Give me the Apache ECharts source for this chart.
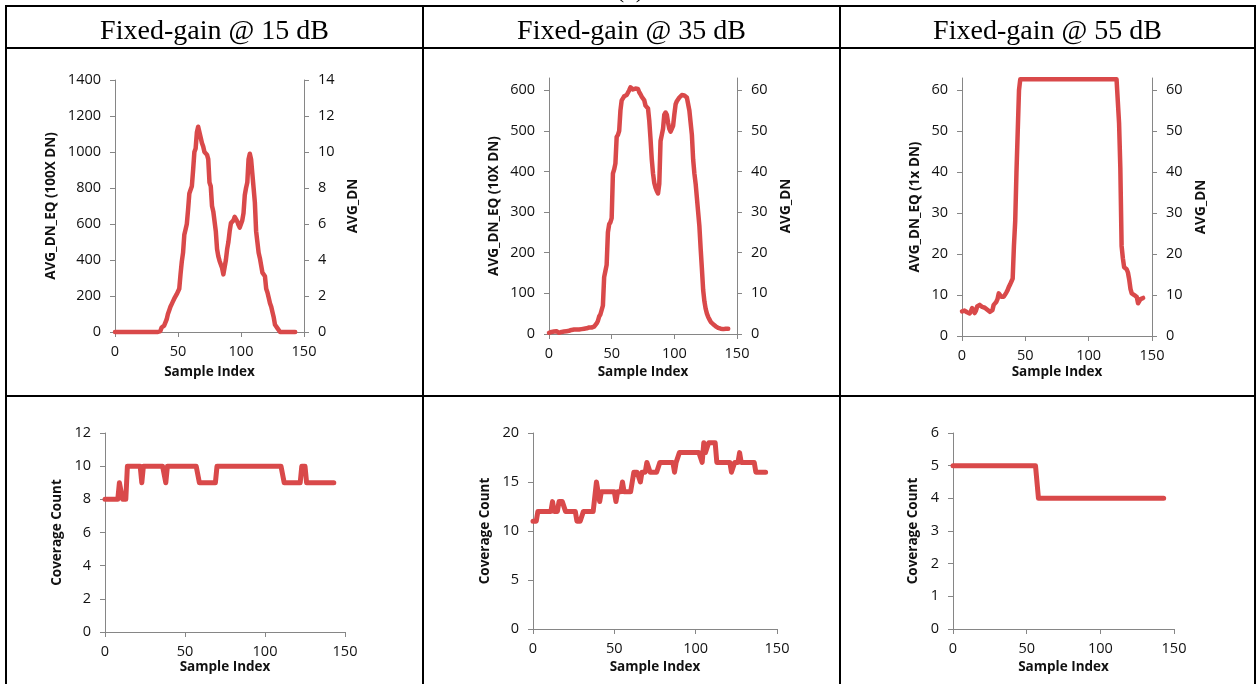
<!DOCTYPE html>
<html><head><meta charset="utf-8">
<script src="https://cdn.jsdelivr.net/npm/echarts@6/dist/echarts.min.js"></script>
<style>html,body{margin:0;padding:0;background:#fff}#c{width:1258px;height:684px}</style>
</head><body><div id="c"></div>
<script>
// ---------------- data ----------------
const headTitles = ['Fixed-gain @ 15 dB', 'Fixed-gain @ 35 dB', 'Fixed-gain @ 55 dB'];
const xTicks = [0, 50, 100, 150];
const yTicks15 = [0, 200, 400, 600, 800, 1000, 1200, 1400];
const rTicks15 = [0, 2, 4, 6, 8, 10, 12, 14];
const yTicks35 = [0, 100, 200, 300, 400, 500, 600];
const rTicks35 = [0, 10, 20, 30, 40, 50, 60];
const yTicks55 = [0, 10, 20, 30, 40, 50, 60];
const rTicks55 = [0, 10, 20, 30, 40, 50, 60];
const cTicks15 = [0, 2, 4, 6, 8, 10, 12];
const cTicks35 = [0, 5, 10, 15, 20];
const cTicks55 = [0, 1, 2, 3, 4, 5, 6];

// AVG_DN_EQ per sample index (0..143)
const gain15 = [
  0,0,0,0,0,0,0,0,0,0,
  0,0,0,0,0,0,0,0,0,0,
  0,0,0,0,0,0,0,0,0,0,
  0,0,0,0,0,0,5,25,30,35,
  45,70,100,120,140,155,170,185,195,210,
  225,240,320,390,440,540,570,600,680,770,
  790,810,900,1000,1020,1110,1140,1130,1080,1050,
  1030,1000,990,985,960,830,810,700,670,660,
  560,460,420,395,375,355,320,320,400,460,
  500,560,605,615,620,640,630,615,595,580,
  585,620,660,760,800,830,960,990,960,880,
  800,720,560,500,440,410,370,330,320,310,
  240,220,190,160,140,110,80,40,30,20,
  10,0,0,0,0,0,0,0,0,0,
  0,0,0,0
];
const gain35 = [
  3,4,5,5,6,6,7,5,3,4,
  5,5,6,7,7,7,8,9,10,10,
  11,10,11,11,11,12,12,12,13,14,
  14,15,16,16,16,17,18,20,26,32,
  43,48,52,70,140,155,170,250,270,275,
  285,395,405,420,485,490,500,550,575,580,
  585,586,588,592,600,607,605,602,603,604,
  604,603,595,590,584,580,575,562,559,555,
  525,480,430,395,372,360,352,346,370,475,
  490,505,540,545,540,520,505,498,505,512,
  540,565,573,577,582,585,588,589,587,585,
  582,578,550,520,490,430,395,370,335,300,
  265,210,160,108,80,62,50,42,36,30,
  27,24,21,19,17,15,14,13,13,12,
  12,13,13,13
];
const gain55 = [
  6.0,5.8,6.2,6.0,5.8,5.4,5.5,6.0,6.8,6.5,
  5.6,6.2,7.2,7.0,7.6,7.3,7.1,7.2,6.9,6.7,
  6.4,6.0,5.9,5.7,6.3,7.6,8.0,8.3,9.0,10.4,
  10.0,9.6,9.2,9.6,9.8,10.6,11.2,12.0,12.6,13.3,
  14,22,28,40,50,60,62.7,62.7,62.7,62.7,
  62.7,62.7,62.7,62.7,62.7,62.7,62.7,62.7,62.7,62.7,
  62.7,62.7,62.7,62.7,62.7,62.7,62.7,62.7,62.7,62.7,
  62.7,62.7,62.7,62.7,62.7,62.7,62.7,62.7,62.7,62.7,
  62.7,62.7,62.7,62.7,62.7,62.7,62.7,62.7,62.7,62.7,
  62.7,62.7,62.7,62.7,62.7,62.7,62.7,62.7,62.7,62.7,
  62.7,62.7,62.7,62.7,62.7,62.7,62.7,62.7,62.7,62.7,
  62.7,62.7,62.7,62.7,62.7,62.7,62.7,62.7,62.7,62.7,
  62.7,62.7,62.7,62.7,52,41,22,19,16.8,16.5,
  16.3,15.5,13.8,11.5,10.4,10.2,10.0,9.8,9.5,8.0,
  8.5,9.0,9.2,9.3
];
// Coverage Count per sample index (0..143)
const cov15 = [
  8,8,8,8,8,8,8,8,8,9,
  9,8,8,8,10,10,10,10,10,10,
  10,10,10,9,10,10,10,10,10,10,
  10,10,10,10,10,10,10,10,9,10,
  10,10,10,10,10,10,10,10,10,10,
  10,10,10,10,10,10,10,10,10,9,
  9,9,9,9,9,9,9,9,9,9,
  10,10,10,10,10,10,10,10,10,10,
  10,10,10,10,10,10,10,10,10,10,
  10,10,10,10,10,10,10,10,10,10,
  10,10,10,10,10,10,10,10,10,10,
  10,10,9,9,9,9,9,9,9,9,
  9,9,9,10,10,10,9,9,9,9,
  9,9,9,9,9,9,9,9,9,9,
  9,9,9,9
];
const cov35 = [
  11,11,11,12,12,12,12,12,12,12,
  12,12,13,12,12,12,13,13,13,13,
  12,12,12,12,12,12,12,11,11,11,
  11,12,12,12,12,12,12,12,12,15,
  14,13,14,14,14,14,14,14,14,14,
  14,13,14,14,14,15,14,14,14,14,
  14,14,16,16,16,16,15,16,16,16,
  17,17,16,16,16,16,16,16,17,17,
  17,17,17,17,17,17,17,16,17,17,
  18,18,18,18,18,18,18,18,18,18,
  18,18,18,18,17,19,18,18,19,19,
  19,19,19,17,17,17,17,17,17,17,
  17,17,16,16,17,17,17,18,17,17,
  17,17,17,17,17,17,17,16,16,16,
  16,16,16,16
];
const cov55 = [
  5,5,5,5,5,5,5,5,5,5,
  5,5,5,5,5,5,5,5,5,5,
  5,5,5,5,5,5,5,5,5,5,
  5,5,5,5,5,5,5,5,5,5,
  5,5,5,5,5,5,5,5,5,5,
  5,5,5,5,5,5,5,5,4,4,
  4,4,4,4,4,4,4,4,4,4,
  4,4,4,4,4,4,4,4,4,4,
  4,4,4,4,4,4,4,4,4,4,
  4,4,4,4,4,4,4,4,4,4,
  4,4,4,4,4,4,4,4,4,4,
  4,4,4,4,4,4,4,4,4,4,
  4,4,4,4,4,4,4,4,4,4,
  4,4,4,4,4,4,4,4,4,4,
  4,4,4,4
];

// ---------------- styling / layout ----------------
const RED = '#D9494A', AX = '#868686', TXT = '#111111';
const FF = "'Open Sans', sans-serif";
const SERIF = "'Liberation Serif', 'Times New Roman', serif";
const plain = v => String(v);

const panels = [
  {grid:{left:115, top:80, width:189, height:252}, data:gain15, ymax:1400, yint:200, yt:yTicks15, yname:'AVG_DN_EQ (100X DN)', ygap:57,
   right:{max:14, int:2, t:rTicks15, gap:42}, xgap:33, lw:4.5},
  {grid:{left:549, top:78, width:188, height:256}, data:gain35, ymax:630, yint:100, yt:yTicks35, yname:'AVG_DN_EQ (10X DN)', ygap:48,
   right:{max:63, int:10, t:rTicks35, gap:42}, xgap:31, lw:4.5},
  {grid:{left:962, top:78, width:190, height:258}, data:gain55, ymax:63, yint:10, yt:yTicks55, yname:'AVG_DN_EQ (1x DN)', ygap:40,
   right:{max:63, int:10, t:rTicks55, gap:42}, xgap:29, lw:4.5},
  {grid:{left:105, top:433, width:240, height:199}, data:cov15, ymax:12, yint:2, yt:cTicks15, yname:'Coverage Count', ygap:41, xgap:28.5, lw:5},
  {grid:{left:533, top:433, width:244, height:196}, data:cov35, ymax:20, yint:5, yt:cTicks35, yname:'Coverage Count', ygap:41, xgap:31.5, lw:5},
  {grid:{left:953, top:433, width:221, height:196}, data:cov55, ymax:6, yint:1, yt:cTicks55, yname:'Coverage Count', ygap:33, xgap:31.5, lw:5}
];

function yAxis(gi, max, interval, ticks, name, gap, pos) {
  return {
    type:'value', gridIndex:gi, position:pos, min:0, max:max, interval:interval,
    axisLine:{show:true, onZero:false, lineStyle:{color:AX, width:1}},
    axisTick:{show:true, inside:false, length:5, lineStyle:{color:AX, width:1}, customValues:ticks},
    axisLabel:{show:true, color:TXT, fontFamily:FF, fontSize:14.5, margin:14, customValues:ticks, formatter:plain},
    splitLine:{show:false},
    name:name, nameLocation:'middle', nameRotate:90, nameGap:gap,
    nameTextStyle:{fontFamily:FF, fontWeight:'bold', fontSize:13.5, color:TXT}
  };
}

const grids = [], xAxes = [], yAxes = [], series = [];
panels.forEach((p, i) => {
  grids.push(Object.assign({containLabel:false, outerBoundsMode:'none', show:false}, p.grid));
  xAxes.push({
    type:'value', gridIndex:i, min:0, max:150, interval:50,
    axisLine:{show:true, onZero:false, lineStyle:{color:AX, width:1}},
    axisTick:{show:true, inside:false, length:5, lineStyle:{color:AX, width:1}, customValues:xTicks},
    axisLabel:{show:true, color:TXT, fontFamily:FF, fontSize:14.5, margin:12, customValues:xTicks, formatter:plain},
    splitLine:{show:false},
    name:'Sample Index', nameLocation:'middle', nameGap:p.xgap,
    nameTextStyle:{fontFamily:FF, fontWeight:'bold', fontSize:13.5, color:TXT}
  });
  const leftIndex = yAxes.length;
  yAxes.push(yAxis(i, p.ymax, p.yint, p.yt, p.yname, p.ygap, 'left'));
  if (p.right) yAxes.push(yAxis(i, p.right.max, p.right.int, p.right.t, 'AVG_DN', p.right.gap, 'right'));
  series.push({
    type:'line', xAxisIndex:i, yAxisIndex:leftIndex,
    data:p.data.map((v, k) => [k, v]),
    showSymbol:false, symbol:'none', clip:false, silent:true,
    lineStyle:{color:RED, width:p.lw, cap:'round', join:'round'},
    itemStyle:{color:RED}
  });
});

// table lines and header texts
const graphics = [];
const hLines = [6, 48, 396];
const vLines = [6, 423, 840, 1255];
hLines.forEach(y => graphics.push({type:'line', silent:true, shape:{x1:5, y1:y, x2:1256, y2:y}, style:{stroke:'#000', lineWidth:2}}));
vLines.forEach(x => graphics.push({type:'line', silent:true, shape:{x1:x, y1:5, x2:x, y2:684}, style:{stroke:'#000', lineWidth:2}}));
const titleX = [214.5, 631.5, 1047.5];
headTitles.forEach((t, i) => graphics.push({
  type:'text', silent:true, x:titleX[i], y:32,
  style:{text:t, textAlign:'center', textVerticalAlign:'middle', font:'28px ' + SERIF, fill:'#000'}
}));
graphics.push({type:'text', silent:true, x:630, y:-10.3,
  style:{text:'(c)', textAlign:'center', textVerticalAlign:'middle', font:'26px ' + SERIF, fill:'#000'}});

const chart = echarts.init(document.getElementById('c'), null, {renderer:'canvas'});
chart.setOption({
  animation:false,
  backgroundColor:'#fff',
  grid:grids, xAxis:xAxes, yAxis:yAxes, series:series,
  graphic:graphics
});
</script>
</body></html>
